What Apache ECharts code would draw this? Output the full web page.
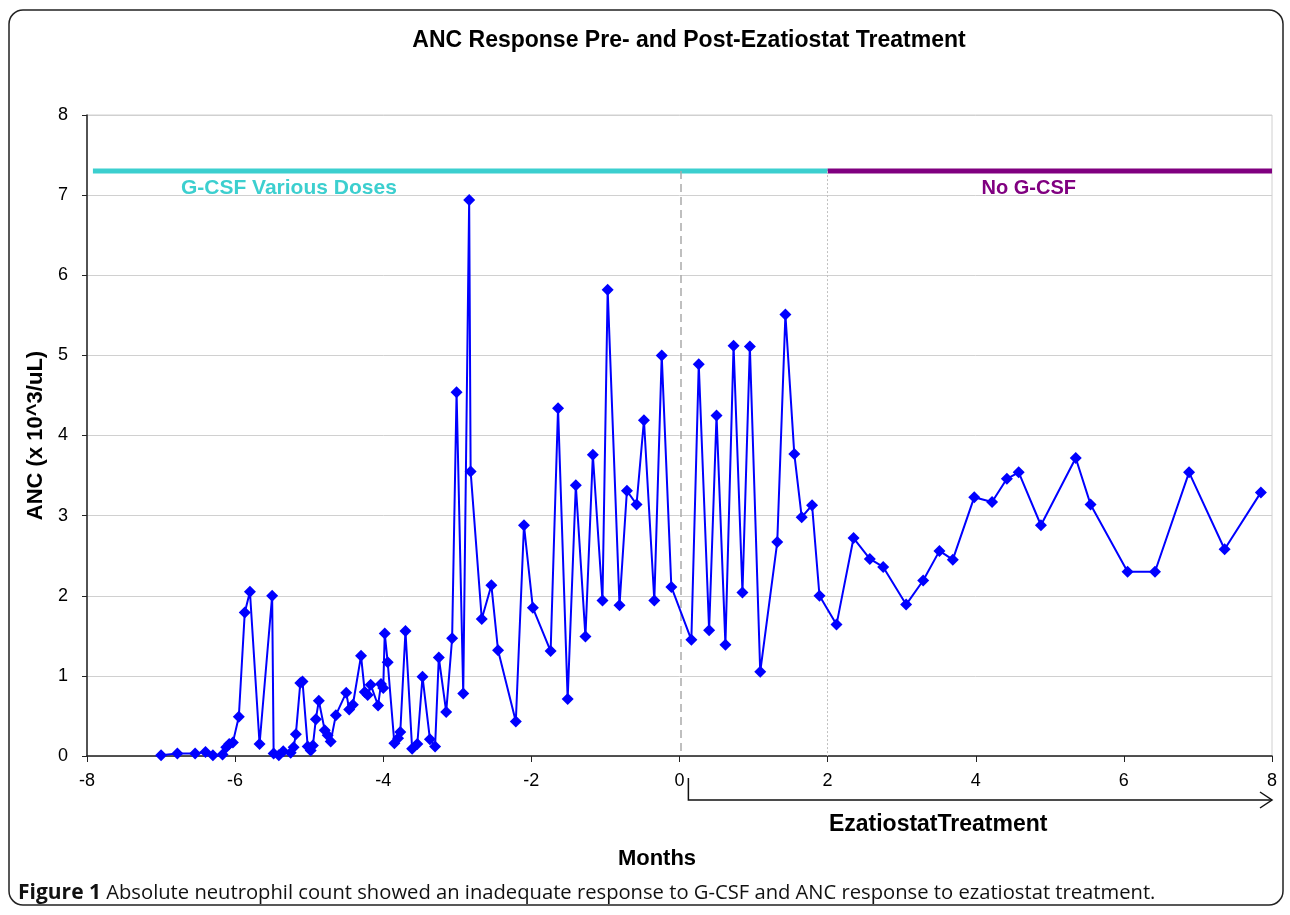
<!DOCTYPE html>
<html>
<head>
<meta charset="utf-8">
<script src="https://cdn.jsdelivr.net/npm/echarts@6/dist/echarts.min.js"></script>
<style>
html,body{margin:0;padding:0;background:#fff;}
#chart{width:1290px;height:915px;}
</style>
</head>
<body>
<div id="chart"></div>
<script>
// ---- data ----
const months = [
  -7.00, -6.78, -6.54, -6.40, -6.30, -6.17, -6.12, -6.08, -6.03, -5.95,
  -5.87, -5.80, -5.67, -5.50, -5.48, -5.41, -5.35, -5.25, -5.21, -5.18,
  -5.12, -5.09, -5.02, -4.98, -4.95, -4.91, -4.87, -4.79, -4.75, -4.71,
  -4.64, -4.50, -4.46, -4.41, -4.30, -4.25, -4.21, -4.17, -4.07, -4.03,
  -4.00, -3.98, -3.94, -3.85, -3.80, -3.77, -3.70, -3.61, -3.54, -3.47,
  -3.37, -3.30, -3.25, -3.15, -3.07, -3.01, -2.92, -2.84, -2.82, -2.67,
  -2.54, -2.45, -2.21, -2.10, -1.98, -1.74, -1.64, -1.51, -1.40, -1.27,
  -1.17, -1.04, -0.97, -0.81, -0.71, -0.58, -0.48, -0.34, -0.24, -0.11,
   0.16,  0.26,  0.40,  0.50,  0.62,  0.73,  0.85,  0.95,  1.09,  1.32,
   1.43,  1.55,  1.65,  1.79,  1.89,  2.12,  2.35,  2.57,  2.75,  3.06,
   3.29,  3.51,  3.69,  3.98,  4.22,  4.42,  4.58,  4.88,  5.35,  5.55,
   6.05,  6.42,  6.88,  7.36,  7.85
];
const anc = [
  0.01, 0.03, 0.03, 0.05, 0.01, 0.02, 0.11, 0.15, 0.17, 0.49,
  1.79, 2.05, 0.15, 2.00, 0.03, 0.01, 0.06, 0.04, 0.11, 0.27,
  0.91, 0.93, 0.12, 0.07, 0.13, 0.46, 0.69, 0.32, 0.26, 0.18,
  0.51, 0.79, 0.58, 0.64, 1.25, 0.80, 0.76, 0.89, 0.63, 0.90,
  0.85, 1.53, 1.17, 0.16, 0.22, 0.30, 1.56, 0.09, 0.15, 0.99,
  0.21, 0.12, 1.23, 0.55, 1.47, 4.54, 0.78, 6.94, 3.55, 1.71,
  2.13, 1.32, 0.43, 2.88, 1.85, 1.31, 4.34, 0.71, 3.38, 1.49,
  3.76, 1.94, 5.82, 1.88, 3.31, 3.14, 4.19, 1.94, 5.00, 2.11,
  1.45, 4.89, 1.57, 4.25, 1.39, 5.12, 2.04, 5.11, 1.05, 2.67,
  5.51, 3.77, 2.98, 3.13, 2.00, 1.64, 2.72, 2.46, 2.36, 1.89,
  2.19, 2.56, 2.45, 3.23, 3.17, 3.46, 3.54, 2.88, 3.72, 3.14,
  2.30, 2.30, 3.54, 2.58, 3.29
];
// treatment-period bars (month ranges) at ANC level
const barLevel = 7.3;
const gcsfPeriod = [-7.92, 2.0];
const noGcsfPeriod = [2.0, 8.0];
const ezaStart = 0.02;      // dashed marker
const ezaArrowStart = 0.12; // arrow below axis
const periodLabels = ["G-CSF Various Doses", "No G-CSF"];
const xTicks = {min: -8, max: 8, interval: 2};
const yTicks = {min: 0, max: 8, interval: 1};

const FONT = "Liberation Sans, Arial, sans-serif";
const chart = echarts.init(document.getElementById('chart'), null, {renderer: 'canvas'});

const points = months.map((m, i) => [m, anc[i]]);

const option = {
  backgroundColor: '#fff',
  animation: false,
  grid: {left: 87, right: 18, top: 115, bottom: 159, show: true, borderColor: '#d0d0d0', borderWidth: 1},
  xAxis: {
    type: 'value', min: xTicks.min, max: xTicks.max, interval: xTicks.interval,
    axisLine: {onZero: false, lineStyle: {color: '#222', width: 1.5}},
    axisTick: {show: true, inside: false, length: 6, lineStyle: {color: '#222'}},
    axisLabel: {fontFamily: FONT, fontSize: 18, color: '#000', margin: 16},
    splitLine: {show: false}
  },
  yAxis: {
    type: 'value', min: yTicks.min, max: yTicks.max, interval: yTicks.interval,
    name: 'ANC (x 10^3/uL)', nameLocation: 'middle', nameGap: 33,
    nameTextStyle: {fontFamily: FONT, fontWeight: 'bold', fontSize: 22, color: '#000'},
    axisLine: {show: true, onZero: false, lineStyle: {color: '#222', width: 1.5}},
    axisTick: {show: true, inside: false, length: 5, lineStyle: {color: '#222'}},
    axisLabel: {fontFamily: FONT, fontSize: 18, color: '#000', margin: 19},
    splitLine: {show: true, lineStyle: {color: '#d0d0d0', width: 1}}
  },
  series: [
    {
      type: 'line',
      data: points,
      symbol: 'diamond',
      symbolSize: 12,
      lineStyle: {color: '#0000ff', width: 2},
      itemStyle: {color: '#0000ff'},
      z: 5,
      markLine: {
        silent: true,
        symbol: ['none', 'none'],
        label: {show: false},
        data: [
          [{coord: [ezaStart, barLevel], lineStyle: {color: '#aaaaaa', type: [8, 5], width: 1.5}}, {coord: [ezaStart, 0]}],
          [{coord: [noGcsfPeriod[0], barLevel], lineStyle: {color: '#c0c0c0', type: [2, 2], width: 1}}, {coord: [noGcsfPeriod[0], 0]}]
        ]
      }
    },
    {
      type: 'line',
      data: [[gcsfPeriod[0], barLevel], [gcsfPeriod[1], barLevel]],
      symbol: 'none',
      lineStyle: {color: '#3ccfcf', width: 5},
      z: 3
    },
    {
      type: 'line',
      data: [[noGcsfPeriod[0], barLevel], [noGcsfPeriod[1], barLevel]],
      symbol: 'none',
      lineStyle: {color: '#800080', width: 5},
      z: 3
    }
  ]
};
chart.setOption(option);

// annotations placed through the axis scales
const pxAt = (x, y) => chart.convertToPixel({gridIndex: 0}, [x, y]);
const gLeft = pxAt(gcsfPeriod[0], barLevel);
const nMid = pxAt((noGcsfPeriod[0] + noGcsfPeriod[1]) / 2, barLevel);
const a0 = pxAt(ezaArrowStart, 0);
const a1 = pxAt(xTicks.max, 0);
const ax0 = a0[0], ax1 = a1[0], axisY = a0[1];

chart.setOption({
  graphic: [
    {type: 'rect', shape: {x: 9, y: 10, width: 1274, height: 895, r: 14},
     style: {fill: 'none', stroke: '#222', lineWidth: 1.5}, z: 0, silent: true},
    {type: 'text', x: 689, y: 41,
     style: {text: 'ANC Response Pre- and Post-Ezatiostat Treatment', fill: '#000', font: 'bold 23px ' + FONT, textAlign: 'center', textVerticalAlign: 'middle'}},
    {type: 'text', x: gLeft[0] + 88, y: gLeft[1] + 17,
     style: {text: periodLabels[0], fill: '#3ccfcf', font: 'bold 21px ' + FONT, textAlign: 'left', textVerticalAlign: 'middle'}},
    {type: 'text', x: nMid[0] - 21, y: nMid[1] + 17,
     style: {text: periodLabels[1], fill: '#800080', font: 'bold 20px ' + FONT, textAlign: 'center', textVerticalAlign: 'middle'}},
    {type: 'polyline', shape: {points: [[ax0, axisY + 22], [ax0, axisY + 44], [ax1, axisY + 44]]},
     style: {stroke: '#111', lineWidth: 1.5, fill: 'none'}},
    {type: 'polyline', shape: {points: [[ax1 - 12, axisY + 36], [ax1, axisY + 44], [ax1 - 12, axisY + 52]]},
     style: {stroke: '#111', lineWidth: 1.5, fill: 'none'}},
    {type: 'text', x: ax0 + (ax1 - ax0) * 0.428, y: axisY + 69,
     style: {text: 'EzatiostatTreatment', fill: '#000', font: 'bold 23px ' + FONT, textAlign: 'center', textVerticalAlign: 'middle'}},
    {type: 'text', x: 657, y: axisY + 103,
     style: {text: 'Months', fill: '#000', font: 'bold 22px ' + FONT, textAlign: 'center', textVerticalAlign: 'middle'}},
    {type: 'text', x: 18, y: 893,
     style: {
       text: '{b|Figure 1} Absolute neutrophil count showed an inadequate response to G-CSF and ANC response to ezatiostat treatment.',
       rich: {b: {font: 'bold 21px "Open Sans", sans-serif', fill: '#111'}},
       font: '20.2px "Open Sans", sans-serif', fill: '#111', textVerticalAlign: 'middle'
     }}
  ]
});
</script>
</body>
</html>
